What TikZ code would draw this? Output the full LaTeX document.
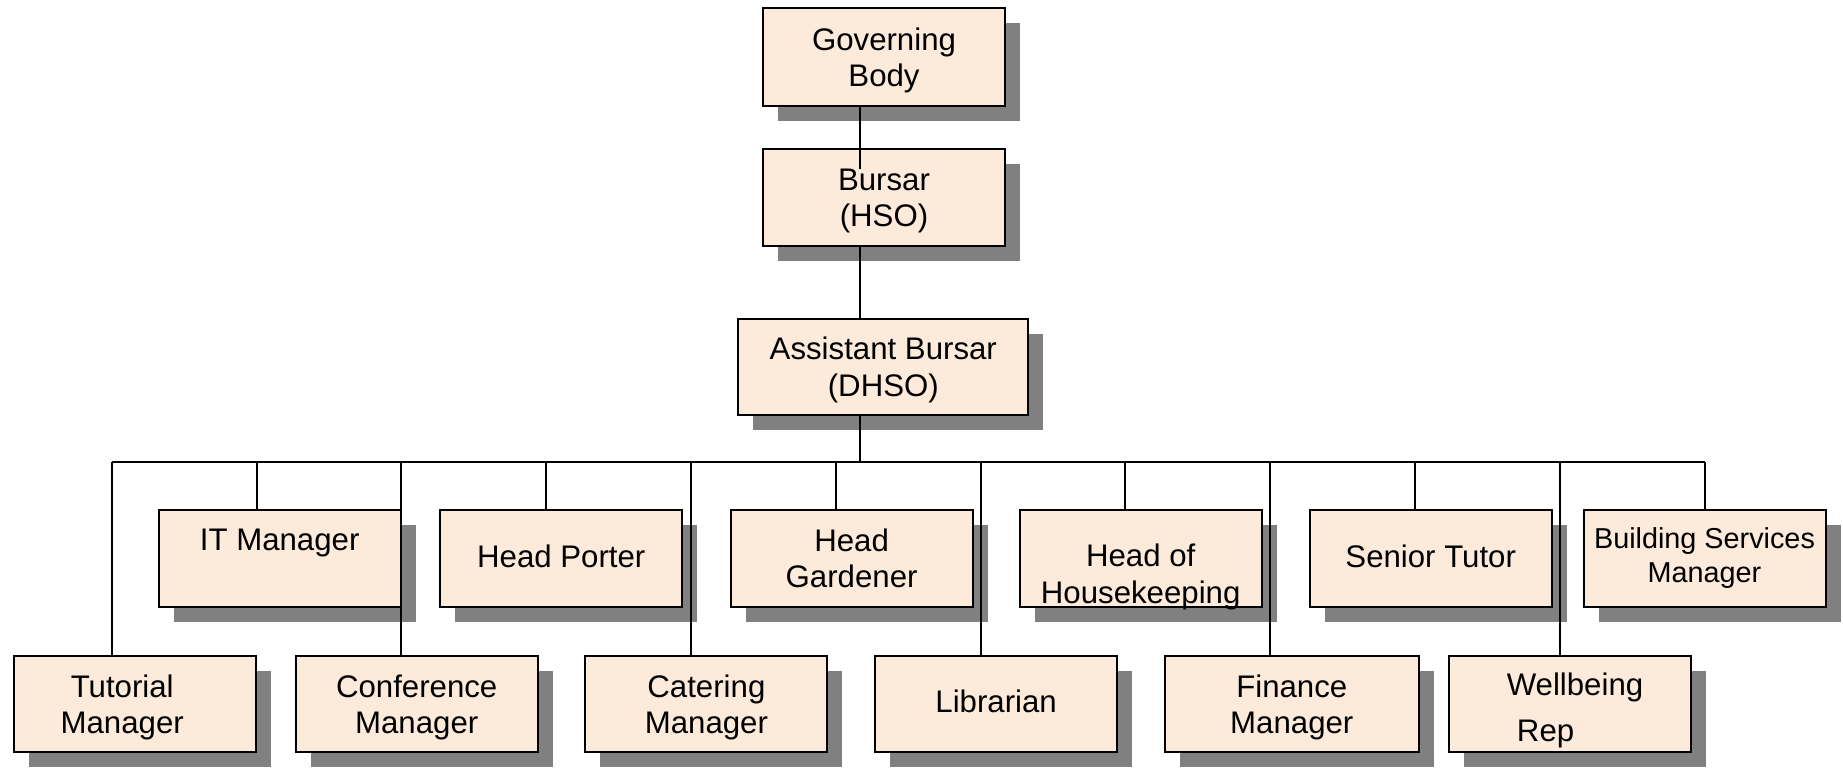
\documentclass[tikz,border=0pt]{standalone}
\usepackage{fontspec}
\setmainfont{Liberation Sans}
\usetikzlibrary{shadows}
\definecolor{peach}{RGB}{252,234,218}
\definecolor{shade}{RGB}{128,128,128}

\begin{document}
\begin{tikzpicture}[x=0.5pt,y=-0.5pt,line width=1pt,
        box/.style={draw,line width=1pt,fill=peach,minimum width=121pt,
          minimum height=48.2pt,inner sep=0pt,align=center,text depth=0pt,
          drop shadow={shadow xshift=7.5pt,shadow yshift=-7.5pt,fill=shade,opacity=1}},
        single/.style={text depth=2.6pt},
        lbl/.style={align=center,inner sep=0pt,text depth=0pt},
        font=\fontsize{15.6}{18.2}\selectfont]
  \useasboundingbox (0,0) rectangle (1843,767);

  \node[box,minimum height=49pt] (gb) at (884,57) {Governing\\Body};
  \node[box] (bur) at (884,197.5) {Bursar\\(HSO)};
  \node[box,minimum width=145pt] (ab) at (883.3,366.8) {Assistant Bursar\\(DHSO)};

  % upper row
  \node[box] (itm) at (279.7,558.3) {};
  \node[lbl] (itmtext) at ([yshift=9.4pt]itm.center) {IT Manager};
  \node[box,single] (hp) at (561.3,558.3) {Head Porter};
  \node[box] (hg) at (851.6,558.3) {Head\\Gardener};
  \node[box] (hoh) at (1140.7,558.3) {};
  \node[lbl] (hohtext) at ([yshift=-7.6pt]hoh.center) {Head of\\Housekeeping};
  \node[box,single] (st) at (1430.7,558.3) {Senior Tutor};
  \node[box,text depth=3.2pt,font=\fontsize{14.4}{17}\selectfont] (bsm) at (1704.5,558.3) {Building Services\\Manager};

  % lower row
  \node[box] (tut) at (135.2,704.1) {};
  \node[lbl] (tuttext) at ([xshift=-6.5pt]tut.center) {Tutorial\\Manager};
  \node[box] (conf) at (416.7,704.1) {Conference\\Manager};
  \node[box] (cat) at (706.4,704.1) {Catering\\Manager};
  \node[box,single] (lib) at (996.1,704.1) {Librarian};
  \node[box,minimum width=127pt] (fin) at (1291.8,704.1) {Finance\\Manager};
  \node[box] (well) at (1569.8,704.1) {};
  \node[lbl] (welltext) at (1575,707) {Wellbeing\\[4.8pt]\hspace*{-29.4pt}Rep};

  % connectors
  \coordinate (spine) at (860,0);
  \path (gb.south -| spine) coordinate (gbfoot)
        ([yshift=-10.5pt]bur.north -| spine) coordinate (burin);
  \draw (gbfoot) -- (burin);
  \draw (bur.south -| spine) -- (ab.north -| spine);
  \foreach \n [count=\i from 0] in {tut,itm,conf,hp,cat,hg,lib,hoh,fin,st,well,bsm}
    \coordinate (bus\i) at ({round(111.7+\i*144.8)},462);
  \draw (bus0) -- (bus11);
  \draw (ab.south -| spine) -- (spine |- bus0);
  \foreach \n [count=\i from 0] in {tut,itm,conf,hp,cat,hg,lib,hoh,fin,st,well,bsm}
    \draw (bus\i) -- (bus\i |- \n.north);

\end{tikzpicture}
\end{document}
